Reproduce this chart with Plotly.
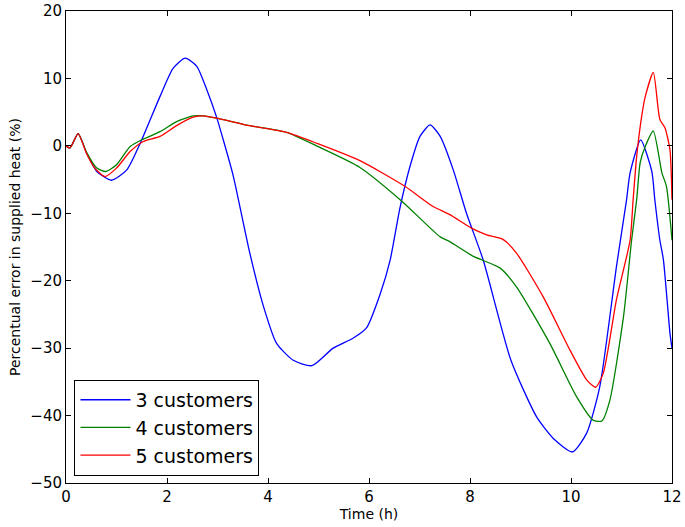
import plotly.graph_objects as go

x3 = [0, 0.08, 0.24, 0.41, 0.61, 0.9, 1.2, 1.47, 1.86, 2.12, 2.36, 2.59, 2.79, 2.98, 3.11, 3.31, 3.64,
      3.91, 4.17, 4.5, 4.87, 5.29, 5.69, 5.95, 6.22, 6.42, 6.61, 6.81, 7.01, 7.21, 7.41, 7.67, 7.93,
      8.26, 8.81, 9.32, 9.65, 10.03, 10.31, 10.57, 10.9, 11.1, 11.17, 11.38, 11.6, 11.66, 11.76, 11.83,
      11.96, 12.0]
y3 = [0, -0.3, 1.8, -1.1, -3.8, -5.1, -3.6, 0.4, 7.3, 11.5, 13.0, 11.8, 8.3, 4.3, 1.0, -4.4, -15.9,
      -23.8, -29.3, -31.8, -32.6, -30.0, -28.5, -27.0, -22.0, -16.9, -9.3, -3.1, 1.4, 3.1, 1.4, -3.6, -10.0,
      -16.9, -31.8, -40.2, -43.4, -45.4, -42.6, -35.7, -17.9, -8.0, -4.0, 0.9, -3.8, -8.0, -14.0, -16.9,
      -27.8, -30.0]

x4 = [0, 0.08, 0.24, 0.41, 0.61, 0.79, 1.0, 1.27, 1.53, 1.86, 2.19, 2.52, 2.72, 3.05, 3.64, 4.37, 4.96,
      5.82, 6.65, 7.41, 7.6, 8.07, 8.59, 8.92, 9.58, 10.11, 10.44, 10.61, 10.77, 11.04, 11.2, 11.3, 11.37,
      11.47, 11.63, 11.8, 11.89, 12.0]
y4 = [0, -0.3, 1.8, -1.0, -3.3, -3.8, -2.8, -0.1, 1.0, 2.1, 3.6, 4.45, 4.45, 4.0, 3.0, 2.0, 0.0,
      -3.2, -8.2, -13.5, -14.2, -16.4, -18.1, -20.9, -29.3, -37.2, -40.7, -40.8, -37.7, -25.3, -14.0, -8.0, -2.5,
      -0.1, 2.2, -4.0, -6.0, -14.0]

x5 = [0, 0.08, 0.24, 0.41, 0.57, 0.77, 1.0, 1.27, 1.53, 1.86, 2.19, 2.52, 2.72, 3.05, 3.64, 4.37, 4.96,
      5.82, 6.71, 7.27, 7.6, 8.03, 8.33, 8.66, 8.92, 9.45, 9.98, 10.31, 10.49, 10.64, 10.9, 11.17, 11.23,
      11.3, 11.4, 11.47, 11.63, 11.76, 11.86, 11.96, 12.0]
y5 = [0, -0.3, 1.8, -1.2, -3.3, -4.55, -3.3, -0.85, 0.65, 1.4, 3.0, 4.25, 4.45, 4.0, 3.0, 2.0, 0.4,
      -2.2, -6.0, -9.0, -10.2, -12.2, -13.2, -13.9, -15.9, -22.4, -30.3, -34.7, -35.8, -33.7, -22.8, -14.0, -8.0,
      -1.6, 4.4, 7.3, 10.9, 3.9, 2.7, -0.6, -8.0]

series = [("3 customers", x3, y3, "#0000ff"),
          ("4 customers", x4, y4, "#008000"),
          ("5 customers", x5, y5, "#ff0000")]

xticks = [0, 2, 4, 6, 8, 10, 12]
yticks = [-50, -40, -30, -20, -10, 0, 10, 20]

fig = go.Figure()
for name, xs, ys, c in series:
    fig.add_trace(go.Scatter(x=xs, y=ys, mode="lines", name=name,
                             line=dict(color=c, width=1.3, shape="spline", smoothing=0.6)))

font = "DejaVu Sans"
axis_common = dict(showgrid=False, zeroline=False, showline=True, linecolor="black", linewidth=1,
                   mirror="ticks", ticks="inside", ticklen=5, tickcolor="black", automargin=False,
                   tickfont=dict(family=font, size=15, color="black"))
fig.update_xaxes(range=[0, 12], tickvals=xticks, ticktext=[str(v) for v in xticks],
                 title=dict(text="Time (h)", font=dict(family=font, size=14, color="black"), standoff=4),
                 **axis_common)
fig.update_yaxes(range=[-50, 20], tickvals=yticks, ticktext=[("\u2212" + str(-v)) if v < 0 else str(v) for v in yticks],
                 title=dict(text="Percentual error in supplied heat (%)", font=dict(family=font, size=14, color="black"), standoff=6),
                 **axis_common)
fig.update_layout(
    width=685, height=527,
    margin=dict(l=66, r=13, t=11, b=44),
    plot_bgcolor="white", paper_bgcolor="white",
    font=dict(family=font, color="black"),
    legend=dict(x=0.014, y=0.015, xanchor="left", yanchor="bottom",
                bordercolor="black", borderwidth=1, bgcolor="white", itemwidth=50,
                font=dict(family=font, size=19, color="black"), tracegroupgap=0),
)
fig.write_html("out.html")
